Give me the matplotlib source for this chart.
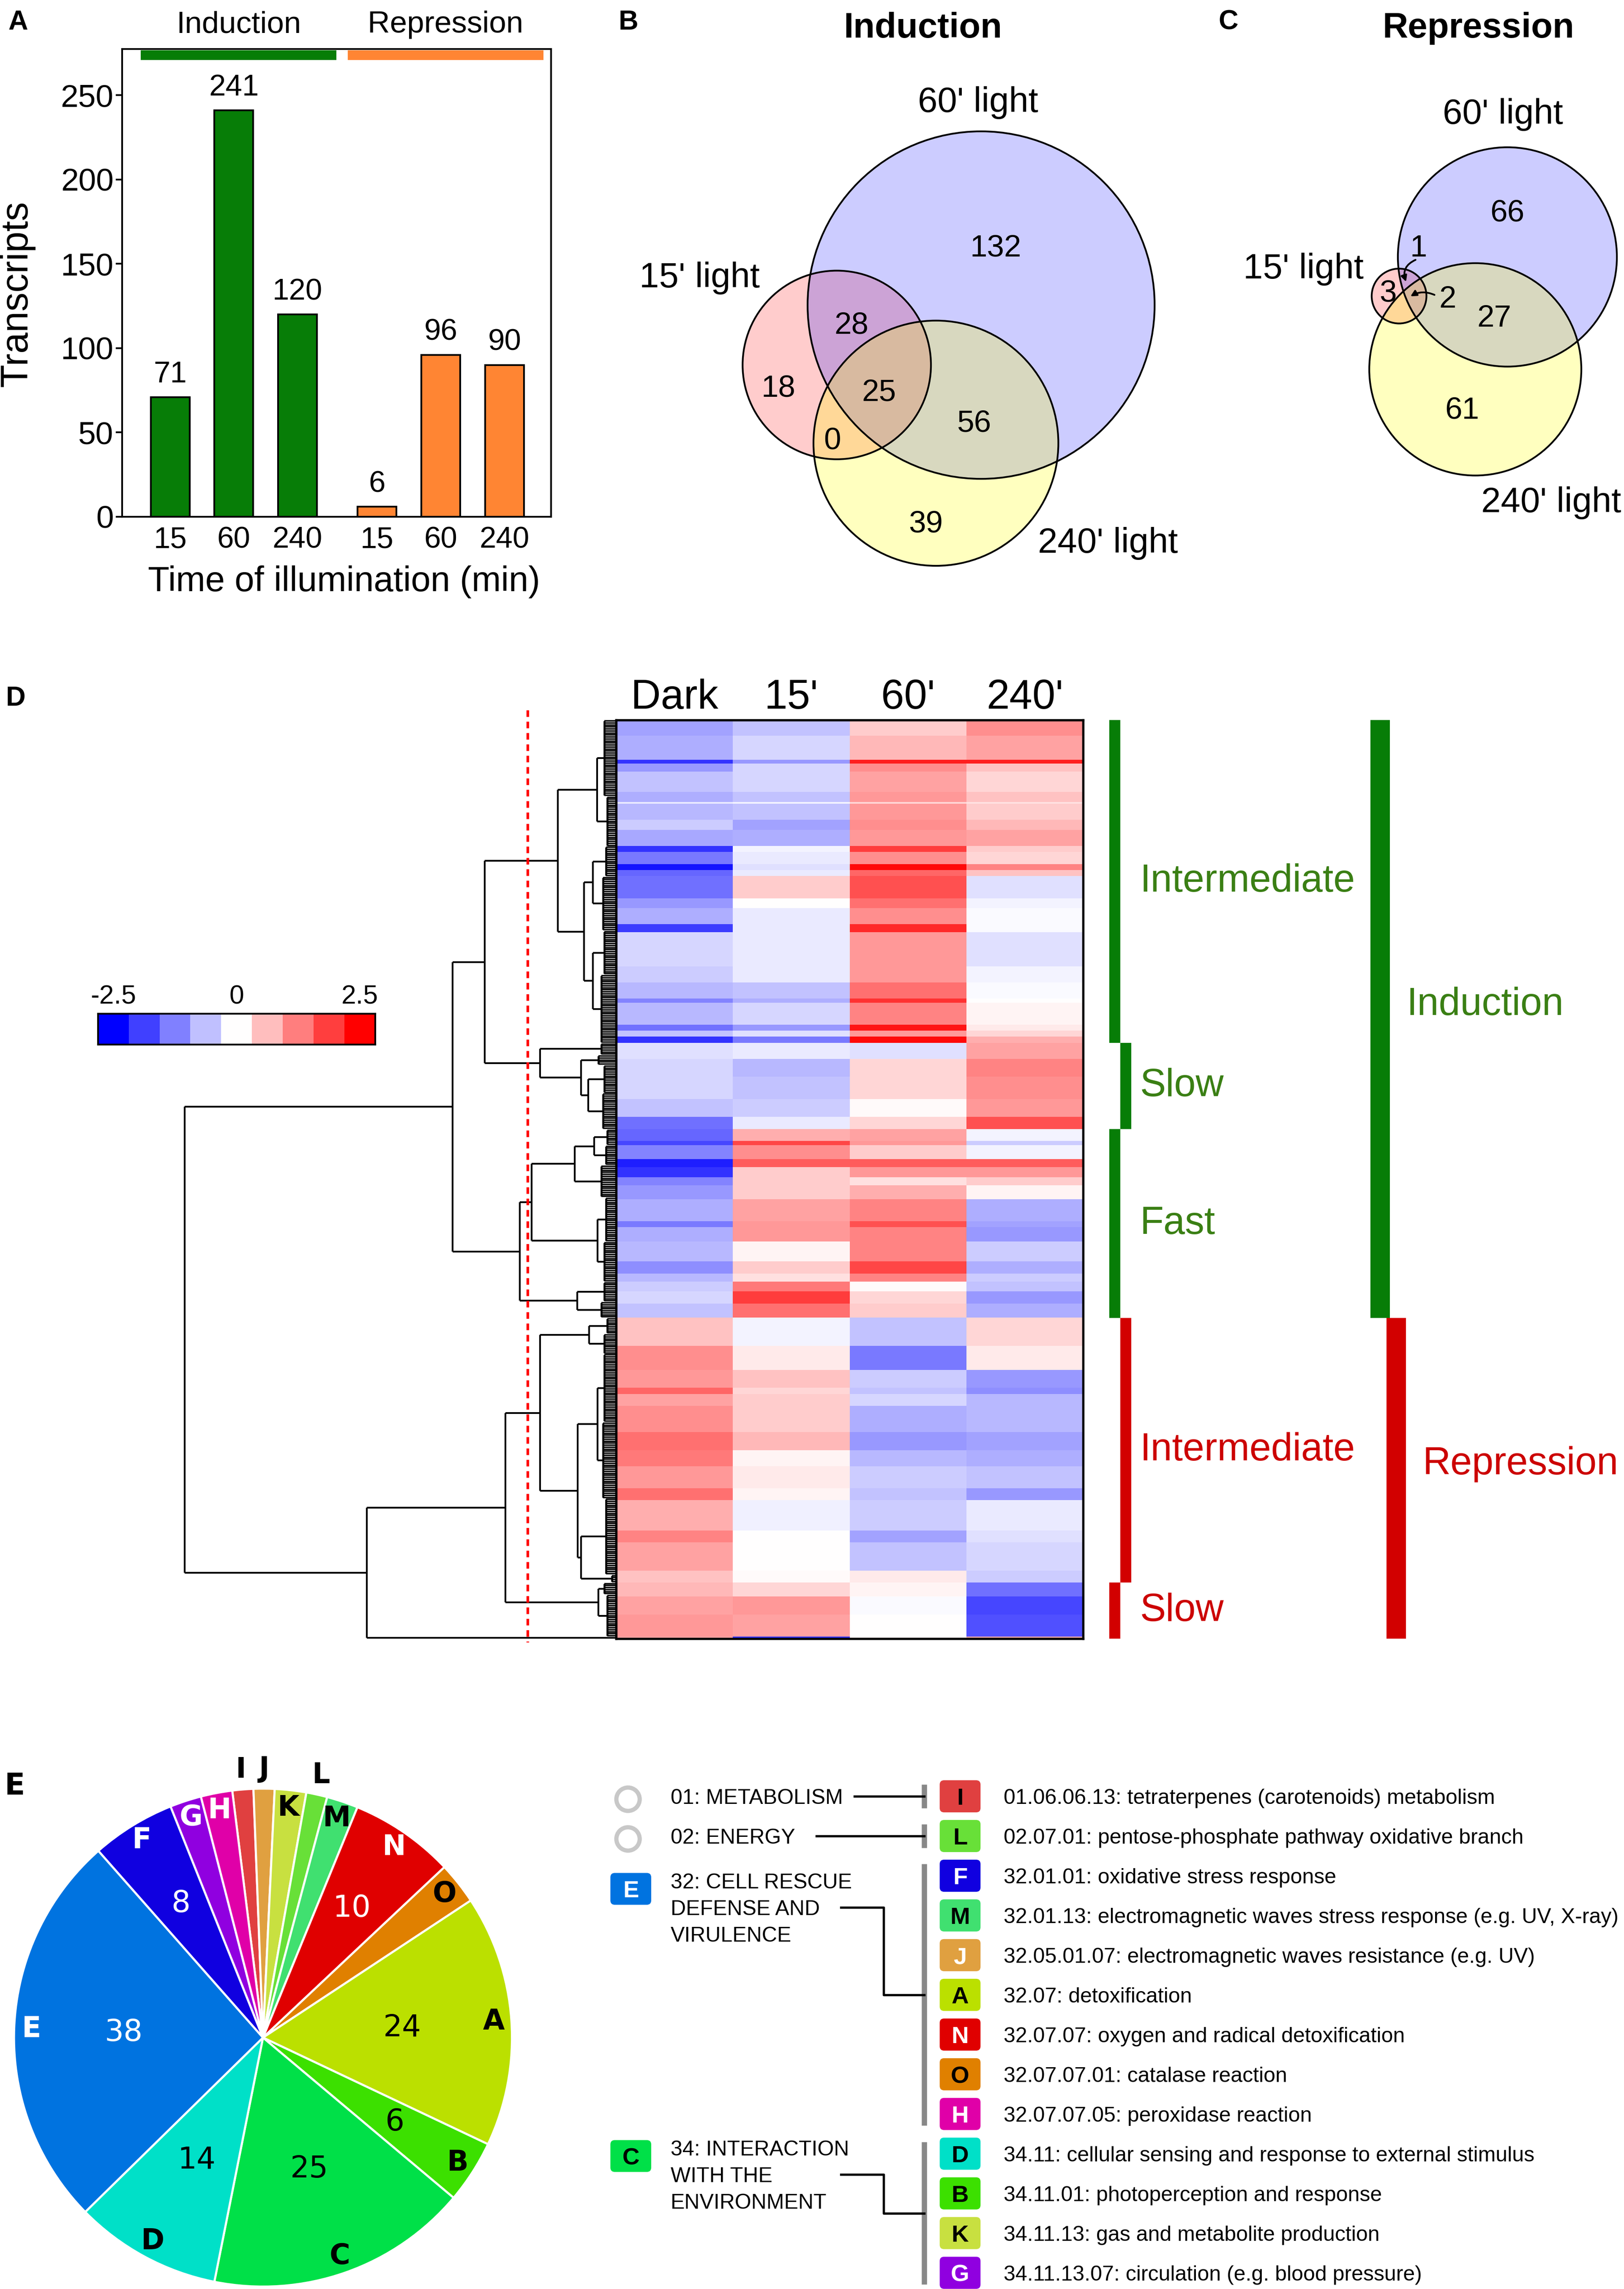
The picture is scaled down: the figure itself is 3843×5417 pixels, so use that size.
import numpy as np
import matplotlib
matplotlib.use("Agg")
import matplotlib.pyplot as plt
from matplotlib.patches import Circle, FancyBboxPatch
from matplotlib.colors import ListedColormap

plt.rcParams['font.family'] = ['Liberation Sans', 'DejaVu Sans']

# layout grid = reference pixels / 3.45
W, H = 1114.0, 1568.0
PT = 300 / 72 / 3.45          # grid units per point

GREEN = '#077d07'
ORANGE = '#ff8533'
TXT_GREEN = '#3a7f14'
TXT_RED = '#cc0000'
BAR_RED = '#d20000'

# ---------------- A: number of regulated transcripts
times = ['15', '60', '240']
induced = [71, 241, 120]
repressed = [6, 96, 90]

# ---------------- B, C: Venn regions
# order: 15 only, 60 only, 240 only, 15&60, 15&240, 60&240, all three
venn_sets = ["15' light", "60' light", "240' light"]
venn_ind = [18, 132, 39, 28, 0, 56, 25]
venn_rep = [3, 66, 61, 1, 0, 27, 2]

conditions = ['Dark', "15'", "60'", "240'"]
blk_rows = [8, 12, 2, 4, 10, 5, 1, 8, 5, 8, 3, 6, 3, 3, 11, 5, 8, 4, 17, 8, 8, 2, 11, 3, 3, 3,
            8, 9, 11, 9, 6,
            6, 2, 7, 4, 5, 4, 7, 11, 3, 7, 10, 6, 4, 5, 6, 7,
            14, 12, 9, 3, 6, 13, 9, 8, 11, 6, 15, 6, 14, 6, 7, 9, 11, 1]
blk_dark = [-0.9, -0.8, -2.0, -1.0, -0.6, -0.8, -0.2, -0.7, -0.5, -0.85, -2.0, -1.3, -2.3, -1.5, -1.4, -1.0, -0.8,
            -1.9, -0.4, -0.5, -0.7, -1.2, -0.7, -1.4, -0.6, -2.0,
            -0.3, -0.4, -0.4, -0.6, -1.4,
            -1.5, -1.8, -1.2, -2.2, -2.0, -1.2, -1.0, -0.8, -1.3, -0.8, -0.7, -1.1, -0.7, -0.5, -0.4, -0.6,
            0.6, 1.1, 1.0, 1.5, 0.9, 1.1, 1.4, 1.3, 1.0, 1.4, 0.8, 1.2, 0.9, 0.6, 0.7, 0.9, 1.0, 0.9]
blk_15 = [-0.6, -0.4, -1.0, -0.4, -0.4, -0.6, -0.1, -0.6, -0.9, -0.8, -0.1, -0.2, -0.3, -0.2, 0.5, 0.0, -0.2,
          -0.2, -0.2, -0.2, -0.6, -0.8, -0.4, -1.0, -0.3, -1.3,
          -0.2, -0.7, -0.6, -0.5, -0.2,
          0.8, 1.8, 1.1, 1.6, 0.5, 0.5, 0.5, 0.9, 1.0, 1.0, 0.1, 0.5, 0.3, 1.3, 1.9, 1.4,
          -0.1, 0.2, 0.6, 0.4, 0.5, 0.5, 0.7, 0.1, 0.2, 0.1, -0.15, 0.0, 0.0, 0.05, 0.4, 1.0, 0.9, -2.0]
blk_60 = [0.5, 0.7, 2.2, 1.1, 0.9, 1.0, 0.4, 1.0, 1.1, 1.0, 1.9, 1.1, 2.4, 1.5, 1.7, 1.4, 1.1,
          2.1, 1.0, 1.0, 1.4, 2.0, 1.2, 2.3, 1.0, 2.4,
          -0.3, 0.4, 0.4, 0.05, 0.4,
          0.9, 1.0, 0.5, 1.6, 1.0, 0.3, 0.8, 1.2, 1.7, 1.2, 1.2, 1.8, 1.2, 0.05, 0.4, 0.5,
          -0.6, -1.3, -0.5, -0.6, -0.4, -0.8, -1.0, -0.7, -0.5, -0.6, -0.5, -0.9, -0.6, 0.2, 0.1, -0.05, 0.0, 0.1]
blk_240 = [1.1, 0.9, 2.2, 0.6, 0.4, 0.6, 0.3, 0.5, 0.7, 0.9, 0.5, 0.4, 1.2, 0.6, -0.3, -0.1, -0.05,
           -0.05, -0.3, -0.1, -0.05, 0.0, 0.1, 0.2, 0.4, 0.8,
           0.9, 1.2, 1.1, 1.0, 1.7,
           -0.1, -0.5, -0.1, 1.6, 1.0, 0.5, 0.1, -0.8, -0.9, -1.0, -0.5, -0.8, -0.5, -0.6, -1.0, -0.8,
           0.4, 0.2, -1.0, -1.1, -0.7, -0.7, -0.9, -0.8, -0.6, -1.0, -0.2, -0.3, -0.4, -0.5, -1.4, -1.8, -1.7, 0.8]

# response clusters (rows, top to bottom)
cluster_names = ['Intermediate', 'Slow', 'Fast', 'Intermediate', 'Slow']
cluster_rows = [161, 43, 94, 132, 28]
cluster_group = ['Induction', 'Induction', 'Induction', 'Repression', 'Repression']

# dendrogram: [merge height, left, right], leaf blocks = (rows, height)
tree = [296,
        [112,
         [90,
          [40,
           [13, (38, 8), (25, 6)],
           [22,
            [16, (15, 7), (27, 9)],
            [16, (22, 8), (34, 10)]]],
          [52, (6, 10),
           [24, (5, 12), [19, (14, 8), (18, 9)]]]],
         [66,
          [58,
           [28.5, [15, (8, 6), (10, 7)], (16, 10)],
           [12.6, (22, 7), (20, 8)]],
          [26.6, (10, 8), (8, 10)]]],
        [171,
         [76,
          [52,
           [18.4, (8, 6), (10, 8)],
           [26.3,
            [12.6, (34, 8), (38, 9)],
            [24, (38, 7), (4, 3)]]],
          [12, (6, 8), (21, 6)]],
         (1, 0)]]
cut_height = 60.5

# ---------------- E: FunCat categories
pie_codes = ['I', 'J', 'K', 'L', 'M', 'N', 'O', 'A', 'B', 'C', 'D', 'E', 'F', 'G', 'H']
pie_counts = [2, 2, 3, 2, 3, 10, 4, 24, 6, 25, 14, 38, 8, 3, 3]
cat_colors = {'A': '#bbe000', 'B': '#3ce000', 'C': '#00e048', 'D': '#00e0c8',
              'E': '#0073e0', 'F': '#1000e0', 'G': '#9000e0', 'H': '#e000a8',
              'I': '#e04040', 'J': '#e0a040', 'K': '#c8e040', 'L': '#68e038',
              'M': '#40e070', 'N': '#e00000', 'O': '#e08000'}
white_letters = {'E', 'F', 'G', 'H', 'N', 'J'}

leg_codes = ['I', 'L', 'F', 'M', 'J', 'A', 'N', 'O', 'H', 'D', 'B', 'K', 'G']
leg_text = ['01.06.06.13: tetraterpenes (carotenoids) metabolism',
            '02.07.01: pentose-phosphate pathway oxidative branch',
            '32.01.01: oxidative stress response',
            '32.01.13: electromagnetic waves stress response (e.g. UV, X-ray)',
            '32.05.01.07: electromagnetic waves resistance (e.g. UV)',
            '32.07: detoxification',
            '32.07.07: oxygen and radical detoxification',
            '32.07.07.01: catalase reaction',
            '32.07.07.05: peroxidase reaction',
            '34.11: cellular sensing and response to external stimulus',
            '34.11.01: photoperception and response',
            '34.11.13: gas and metabolite production',
            '34.11.13.07: circulation (e.g. blood pressure)']
main_cats = [['01: METABOLISM'], ['02: ENERGY'],
             ['32: CELL RESCUE', 'DEFENSE AND', 'VIRULENCE'],
             ['34: INTERACTION', 'WITH THE', 'ENVIRONMENT']]
main_icon = [None, None, 'E', 'C']
main_size = [1, 1, 7, 4]


def rect(x0, y0, x1, y1):
    return [x0 / W, 1 - y1 / H, (x1 - x0) / W, (y1 - y0) / H]


fig = plt.figure(figsize=(3843 / 300, 5417 / 300), dpi=300)

# ================= A
ax = fig.add_axes(rect(83.7, 33.5, 378, 354))
xpos = np.r_[np.arange(3), np.arange(3) + 3.25]
vals = induced + repressed
ax.bar(xpos, vals, width=0.61, color=[GREEN] * 3 + [ORANGE] * 3,
       edgecolor='black', linewidth=1.0, zorder=2)
for x, v in zip(xpos, vals):
    ax.text(x, v + 5, str(v), ha='center', va='bottom', fontsize=17)
for grp, col, xs in [('Induction', GREEN, xpos[:3]), ('Repression', ORANGE, xpos[3:])]:
    x0, x1 = xs[0] - 0.46, xs[-1] + 0.61
    ax.barh(273.9, x1 - x0, left=x0, height=5.8, color=col, lw=0)
    ax.text((x0 + x1) / 2, 1.0515, grp, ha='center', va='center', fontsize=17.5,
            transform=ax.get_xaxis_transform())
ax.set_xlim(-0.755, 5.98)
ax.set_ylim(0, 277.5)
ax.set_yticks(range(0, 251, 50))
ax.set_xticks(xpos, times * 2)
ax.tick_params(axis='y', direction='out', length=3.6, width=1, labelsize=18, pad=1.2)
ax.tick_params(axis='x', length=0, labelsize=17, pad=5.5)
ax.set_ylabel('Transcripts', fontsize=21.5)
ax.yaxis.set_label_coords(-0.203, 0.477)
ax.set_xlabel('Time of illumination (min)', fontsize=20)
ax.xaxis.set_label_coords(0.5175, -0.104)
for s in ax.spines.values():
    s.set_linewidth(1.0)

# ================= D heatmap
heat = np.column_stack([np.repeat(b, blk_rows) for b in (blk_dark, blk_15, blk_60, blk_240)])
nrows = heat.shape[0]
axh = fig.add_axes(rect(422.6, 493.2, 743, 1122.6))
axh.imshow(heat, cmap='bwr', vmin=-2.5, vmax=2.5, aspect='auto',
           interpolation='nearest', extent=(-0.5, 3.5, nrows, 0))
axh.set_xticks(range(4), conditions)
axh.xaxis.tick_top()
axh.tick_params(axis='x', length=0, labelsize=23.5, pad=1.7)
axh.set_yticks([])
for s in axh.spines.values():
    s.set_linewidth(1.3)

# dendrogram
axd = fig.add_axes(rect(100, 493.2, 422.6, 1122.6))
axd.set_xlim(322.6, 0)
axd.set_ylim(nrows, 0)
axd.axis('off')


def draw(node, row0):
    if isinstance(node, tuple):
        n, h = node
        c = row0 + 0.5 + np.arange(n)
        if h > 0:
            axd.hlines(c, 0, h, color='black', lw=0.85)
            if n > 1:
                axd.vlines(h, c[0], c[-1], color='black', lw=1.1)
        return row0 + n / 2, h, row0 + n
    h, left, right = node
    p1, h1, r = draw(left, row0)
    p2, h2, r = draw(right, r)
    axd.vlines(h, p1, p2, color='black', lw=1.0)
    axd.hlines([p1, p2], [h1, h2], h, color='black', lw=1.0)
    return (p1 + p2) / 2, h, r


draw(tree, 0)
axd.plot([cut_height, cut_height], [-4.9, nrows + 1.8], color='red', lw=1.5,
         linestyle=(0, (2.5, 1.8)), clip_on=False)

# colour key
levels = np.linspace(-2.5, 2.5, 9)
key_cmap = ListedColormap(plt.get_cmap('bwr')((levels + 2.5) / 5))
axc = fig.add_axes(rect(67.3, 694.3, 257.3, 715.6))
axc.imshow(np.arange(9)[None, :], cmap=key_cmap, aspect='auto', extent=(0, 9, 0, 1))
axc.set_xticks([0.5, 4.5, 8.5], ['%g' % levels[0], '0', '%g' % levels[-1]])
axc.xaxis.tick_top()
axc.tick_params(axis='x', length=0, labelsize=15, pad=2.5)
axc.set_yticks([])
for s in axc.spines.values():
    s.set_linewidth(1.0)

# cluster brackets
axb = fig.add_axes(rect(745, 493.2, 1114, 1122.6))
axb.set_xlim(745, 1114)
axb.set_ylim(nrows, 0)
axb.axis('off')
start = np.r_[0, np.cumsum(cluster_rows)[:-1]]
for i, (name, n, g) in enumerate(zip(cluster_names, cluster_rows, cluster_group)):
    bcol = GREEN if g == 'Induction' else BAR_RED
    tcol = TXT_GREEN if g == 'Induction' else TXT_RED
    x0 = 761 if i % 2 == 0 else 768.4
    axb.barh(start[i], 7.5, left=x0, height=n, align='edge', color=bcol, lw=0)
    axb.text(782, start[i] + n / 2, name, ha='left', va='center', fontsize=22, color=tcol)
n_ind = sum(n for n, g in zip(cluster_rows, cluster_group) if g == 'Induction')
for g, r0, n, x0, bcol, tcol in [('Induction', 0, n_ind, 940, GREEN, TXT_GREEN),
                                 ('Repression', n_ind, nrows - n_ind, 951, BAR_RED, TXT_RED)]:
    axb.barh(r0, 13.5, left=x0, height=n, align='edge', color=bcol, lw=0, clip_on=False)
    axb.text(x0 + 25, r0 + n / 2 - 7, g, ha='left', va='center', fontsize=22, color=tcol)

# ================= E pie
cx, cy, R = 180.4, 1395.8, 170.8
axp = fig.add_axes(rect(cx - R, cy - R, cx + R, cy + R))
wedges, _ = axp.pie(pie_counts, colors=[cat_colors[c] for c in pie_codes], startangle=97.1,
                    counterclock=False, radius=1,
                    wedgeprops=dict(edgecolor='white', linewidth=1.2))
axp.set_xlim(-1, 1)
axp.set_ylim(-1, 1)
for w, code, n in zip(wedges, pie_codes, pie_counts):
    a = np.deg2rad((w.theta1 + w.theta2) / 2)
    r = 1.08 if code in ('I', 'J', 'L') else 0.93
    col = 'white' if (code in white_letters and r < 1 and code != 'J') else 'black'
    axp.text(r * np.cos(a), r * np.sin(a), code, ha='center', va='center', fontsize=16,
             fontweight='bold', family='DejaVu Sans', color=col, clip_on=False)
    if n >= 6:
        rn = 0.63 if n < 12 else 0.56
        ncol = 'white' if code in ('E', 'F', 'N') else 'black'
        axp.text(rn * np.cos(a), rn * np.sin(a), str(n), ha='center', va='center',
                 fontsize=17, family='DejaVu Sans', color=ncol)

# ================= overlay: panels B, C, letters and FunCat key
ax0 = fig.add_axes([0, 0, 1, 1])
ax0.set_xlim(0, W)
ax0.set_ylim(H, 0)
ax0.axis('off')


def put(x, y, s, fs, ha='center', **kw):
    # y = visual middle of capitals
    ax0.text(x, y + 0.36 * fs * PT, s, fontsize=fs, ha=ha, va='baseline', **kw)


for letter, x, y in [('A', 12.3, 13.4), ('B', 431, 13.4), ('C', 842.5, 13.4), ('D', 10.8, 476.7)]:
    put(x, y, letter, 15.5, fontweight='bold')
put(10, 1222, 'E', 17, fontweight='bold', family='DejaVu Sans')


def venn(regions, centres, set_pos, num_pos, title, title_x):
    r15, r60, r240, a, b, c, d = regions
    totals = [r15 + a + b + d, r60 + a + c + d, r240 + b + c + d]
    fills = [('red', 0.2), ('blue', 0.2), ('yellow', 0.25)]
    for (x, y), t, (fc, al) in zip(centres, totals, fills):
        ax0.add_patch(Circle((x, y), 7.667 * np.sqrt(t), fc=fc, alpha=al, lw=0))
    for (x, y), t in zip(centres, totals):
        ax0.add_patch(Circle((x, y), 7.667 * np.sqrt(t), fill=False, ec='black', lw=1.0))
    for s, (x, y) in zip(venn_sets, set_pos):
        put(x, y, s, 20)
    for v, p in zip(regions, num_pos):
        if p is not None:
            put(p[0], p[1], str(v), 17.5)
    put(title_x, 17, title, 20, fontweight='bold')


venn(venn_ind, [(574, 250), (673, 209), (642, 303.6)],
     [(480, 188), (671, 68), (760, 370)],
     [(534, 264), (683, 168), (635, 357), (584, 221), (571, 300), (668, 288), (603, 267)],
     'Induction', 633)
venn(venn_rep, [(959.7, 202.8), (1034, 176), (1012, 253)],
     [(894, 182), (1031, 76), (1064, 342)],
     [(952, 199), (1034, 144), (1003, 279), (973, 168), None, (1025, 216), (993, 203)],
     'Repression', 1014)
ax0.annotate('', xy=(964.5, 193), xytext=(971, 178),
             arrowprops=dict(arrowstyle='-|>', color='black', lw=1.0, mutation_scale=7,
                             shrinkA=0, shrinkB=0, connectionstyle='arc3,rad=0.45'))
ax0.annotate('', xy=(967.5, 203), xytext=(984, 202),
             arrowprops=dict(arrowstyle='-|>', color='black', lw=1.0, mutation_scale=7,
                             shrinkA=0, shrinkB=0, connectionstyle='arc3,rad=0.25'))

# FunCat key
ys = 1230.5 + 27.2 * np.arange(len(leg_codes))
for y, code, txt in zip(ys, leg_codes, leg_text):
    ax0.add_patch(FancyBboxPatch((644.6, y - 11), 28, 22, boxstyle='round,pad=0,rounding_size=3',
                                 fc=cat_colors[code], ec='none'))
    put(658.6, y, code, 13.5, fontweight='bold',
        color='white' if code in white_letters else 'black')
    put(688.5, y, txt, 12, ha='left')

first = np.r_[0, np.cumsum(main_size)[:-1]]
line_y0 = [ys[0], ys[1], 1288.3, 1471.3]
text_end = [586, 560, 577, 577]
for k, (lines, icon, n0, n) in enumerate(zip(main_cats, main_icon, first, main_size)):
    for j, s in enumerate(lines):
        put(460, line_y0[k] + 18.3 * j, s, 12, ha='left')
    if icon is None:
        ax0.add_patch(Circle((430.8, ys[n0] + 2), 8.0, fill=False, ec='#c8c8c8', lw=2.4))
    else:
        yb = line_y0[k] + 5.6
        ax0.add_patch(FancyBboxPatch((418.7, yb - 10.9), 28, 21.8, boxstyle='round,pad=0,rounding_size=3',
                                     fc=cat_colors[icon], ec='none'))
        put(432.7, yb, icon, 13.5, fontweight='bold',
            color='white' if icon in white_letters else 'black')
    grp = ys[n0:n0 + n]
    ax0.plot([634, 634], [grp[0] - 8, grp[-1] + 8], color='#888888', lw=3.0, solid_capstyle='butt')
    ym = grp.mean()
    if n == 1:
        ax0.plot([text_end[k], 634], [ym, ym], color='black', lw=1.3)
    else:
        yl = line_y0[k] + 18.3
        ax0.plot([text_end[k], 606, 606, 634], [yl, yl, ym, ym], color='black', lw=1.3)

fig.savefig('out.png', dpi=300)
